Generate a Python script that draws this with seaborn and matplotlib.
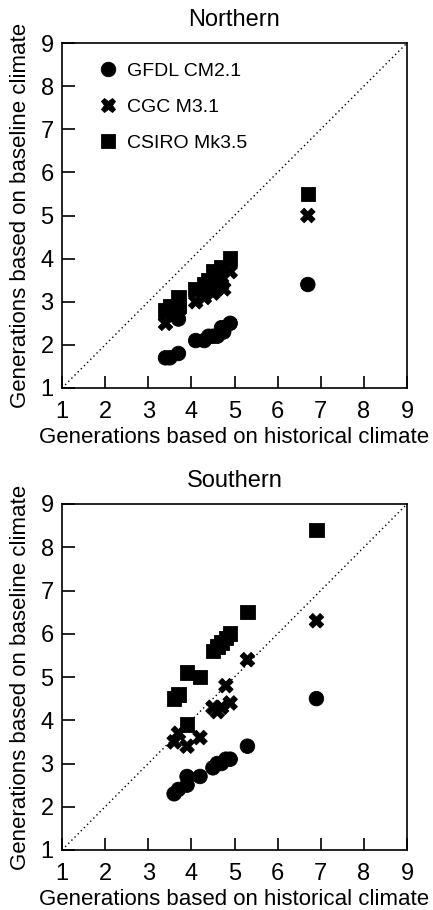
import numpy as np
import pandas as pd
import matplotlib
matplotlib.use('Agg')
import matplotlib.pyplot as plt
import seaborn as sns

models = ['GFDL CM2.1', 'CGC M3.1', 'CSIRO Mk3.5']
model_markers = {'GFDL CM2.1': 'o', 'CGC M3.1': 'X', 'CSIRO Mk3.5': 's'}

# Northern region
north_gfdl_x = [3.4, 3.5, 3.7, 3.7, 4.1, 4.3, 4.4, 4.5, 4.6, 4.7, 4.75, 4.9, 6.7]
north_gfdl_y = [1.7, 1.7, 1.8, 2.6, 2.1, 2.1, 2.2, 2.2, 2.2, 2.4, 2.3, 2.5, 3.4]
north_cgc_x = [3.4, 3.6, 3.7, 4.1, 4.3, 4.4, 4.5, 4.6, 4.7, 4.75, 4.9, 6.7]
north_cgc_y = [2.5, 2.7, 2.8, 3.0, 3.1, 3.3, 3.2, 3.3, 3.4, 3.3, 3.7, 5.0]
north_csiro_x = [3.4, 3.5, 3.7, 3.7, 4.1, 4.3, 4.4, 4.5, 4.6, 4.7, 4.9, 6.7]
north_csiro_y = [2.8, 2.9, 3.1, 2.9, 3.3, 3.4, 3.5, 3.7, 3.6, 3.8, 4.0, 5.5]

# Southern region
south_gfdl_x = [3.6, 3.7, 3.9, 3.9, 4.2, 4.5, 4.6, 4.7, 4.8, 4.9, 5.3, 6.9]
south_gfdl_y = [2.3, 2.4, 2.5, 2.7, 2.7, 2.9, 3.0, 3.0, 3.1, 3.1, 3.4, 4.5]
south_cgc_x = [3.6, 3.7, 3.9, 4.2, 4.5, 4.6, 4.7, 4.8, 4.9, 5.3, 6.9]
south_cgc_y = [3.5, 3.7, 3.4, 3.6, 4.3, 4.2, 4.3, 4.8, 4.4, 5.4, 6.3]
south_csiro_x = [3.6, 3.7, 3.9, 4.2, 3.9, 4.5, 4.6, 4.7, 4.8, 4.9, 5.3, 6.9]
south_csiro_y = [4.5, 4.6, 5.1, 5.0, 3.9, 5.6, 5.7, 5.8, 5.9, 6.0, 6.5, 8.4]

ticks = [1, 2, 3, 4, 5, 6, 7, 8, 9]


def make_frame(xs, ys):
    rows = []
    for name, x, y in zip(models, xs, ys):
        for a, b in zip(x, y):
            rows.append({'hist': a, 'base': b, 'model': name})
    return pd.DataFrame(rows)


north = make_frame([north_gfdl_x, north_cgc_x, north_csiro_x],
                   [north_gfdl_y, north_cgc_y, north_csiro_y])
south = make_frame([south_gfdl_x, south_cgc_x, south_csiro_x],
                   [south_gfdl_y, south_cgc_y, south_csiro_y])

sns.set_style('ticks')
plt.rcParams['font.family'] = ['Liberation Sans', 'DejaVu Sans']
plt.rcParams['font.size'] = 16
plt.rcParams['text.color'] = 'black'
plt.rcParams['axes.labelcolor'] = 'black'
plt.rcParams['xtick.color'] = 'black'
plt.rcParams['ytick.color'] = 'black'

fig = plt.figure(figsize=(4.33, 9.10), dpi=100)
W, H = 433, 910
ax1 = fig.add_axes([62 / W, 1 - 388 / H, 345 / W, 345 / H])
ax2 = fig.add_axes([62 / W, 1 - 850 / H, 345 / W, 346 / H])

for ax, df, title, show_legend in [(ax1, north, 'Northern', True),
                                   (ax2, south, 'Southern', False)]:
    ax.plot([1, 9], [1, 9], linestyle=(0, (1, 2.2)), color='black', lw=1)
    sns.scatterplot(data=df, x='hist', y='base', style='model',
                    markers=model_markers, style_order=models,
                    color='black', s=110, edgecolor='black', linewidth=0.6,
                    legend=show_legend, ax=ax)
    ax.set_xlim(1, 9)
    ax.set_ylim(1, 9)
    ax.set_xticks(ticks)
    ax.set_yticks(ticks)
    ax.tick_params(direction='in', length=9, width=1.2, labelsize=17,
                   colors='black')
    ax.tick_params(axis='x', pad=9)
    ax.tick_params(axis='y', pad=6)
    for sp in ax.spines.values():
        sp.set_visible(True)
        sp.set_linewidth(1.2)
        sp.set_color('black')
    ax.set_title(title, fontsize=17, pad=12)
    ax.set_xlabel('Generations based on historical climate', fontsize=16,
                  labelpad=3)
    ax.set_ylabel('Generations based on baseline climate', fontsize=16,
                  labelpad=7)
    if show_legend:
        leg = ax.legend(loc='upper left', frameon=False, fontsize=14,
                        labelspacing=0.95, handletextpad=0.0,
                        borderaxespad=0.6, bbox_to_anchor=(0.02, 1.0))
        for h in leg.legend_handles:
            h.set_color('black')

fig.savefig('out.png', dpi=100)
